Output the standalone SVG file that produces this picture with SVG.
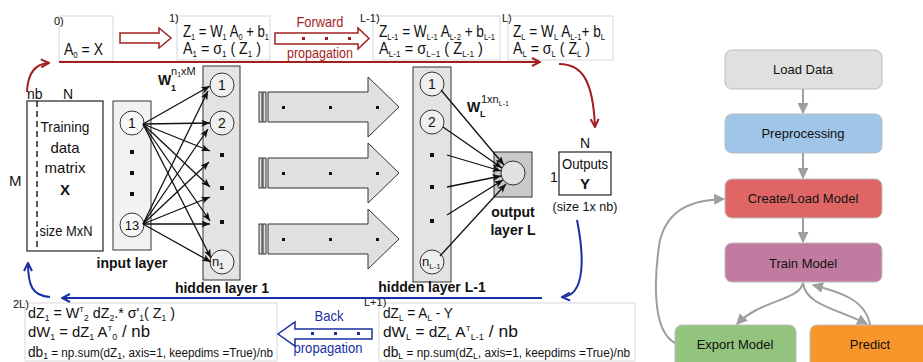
<svg xmlns="http://www.w3.org/2000/svg" width="923" height="362" viewBox="0 0 923 362">
<style>
text{font-family:"Liberation Sans",Arial,sans-serif;fill:#111}
.eq{font-size:16px}
.sb{font-size:9px}
.lbl{font-size:11px}
.bold{font-weight:bold}
.ebox{fill:#fff;stroke:#d8d8d8;stroke-width:1}
.nd{fill:#efefef;stroke:#333;stroke-width:1}
.layer{fill:#e3e3e3;stroke:#333;stroke-width:1}
.wire{stroke:#111;stroke-width:1.3;fill:none;marker-end:url(#ah)}
.red{stroke:#a31f1f;stroke-width:2;fill:none}
.blue{stroke:#1a2fa3;stroke-width:2;fill:none}
.gray{stroke:#9e9e9e;stroke-width:2;fill:none}
.dot{fill:#111}
.fc{font-size:13px;text-anchor:middle}
.bigar{fill:#e0e0e0;stroke:#333;stroke-width:1}
</style>
<defs>
<marker id="ah" viewBox="0 0 10 8" refX="10" refY="4" markerWidth="9" markerHeight="7" markerUnits="userSpaceOnUse" orient="auto"><path d="M0,0 L10,4 L0,8 L2.5,4 Z" fill="#111"/></marker>
<marker id="ahr" viewBox="0 0 10 10" refX="9" refY="5" markerWidth="10" markerHeight="10" markerUnits="userSpaceOnUse" orient="auto"><path d="M1,1 L9,5 L1,9" fill="none" stroke="#a31f1f" stroke-width="2"/></marker>
<marker id="ahb" viewBox="0 0 10 10" refX="9" refY="5" markerWidth="10" markerHeight="10" markerUnits="userSpaceOnUse" orient="auto"><path d="M1,1 L9,5 L1,9" fill="none" stroke="#1a2fa3" stroke-width="2"/></marker>
<marker id="ahg" viewBox="0 0 10 10" refX="9" refY="5" markerWidth="11" markerHeight="11" markerUnits="userSpaceOnUse" orient="auto"><path d="M0,0 L10,5 L0,10 Z" fill="#9e9e9e"/></marker>
</defs>

<!-- top equation boxes -->
<g id="eq0">
<rect class="ebox" x="59" y="16" width="54" height="45"/>
<text class="lbl" x="54" y="25">0)</text>
<text class="eq" x="64" y="55" textLength="39" lengthAdjust="spacingAndGlyphs">A<tspan class="sb" dy="3">0</tspan><tspan dy="-3"> = X</tspan></text>
</g>
<g id="arrow01">
<path d="M120,33 L159,33 L159,28 L171,38 L159,48 L159,43 L120,43 Z" fill="#fff" stroke="#a31f1f" stroke-width="1.5"/>
</g>
<g id="eq1">
<rect class="ebox" x="177" y="16" width="93" height="44"/>
<text class="lbl" x="169" y="22">1)</text>
<text class="eq" x="183" y="37" textLength="86" lengthAdjust="spacingAndGlyphs">Z<tspan class="sb" dy="3">1</tspan><tspan dy="-3"> = W</tspan><tspan class="sb" dy="3">1</tspan><tspan dy="-3"> A</tspan><tspan class="sb" dy="3">0</tspan><tspan dy="-3"> + b</tspan><tspan class="sb" dy="3">1</tspan></text>
<text class="eq" x="183" y="54" textLength="78" lengthAdjust="spacingAndGlyphs">A<tspan class="sb" dy="3">1</tspan><tspan dy="-3"> = σ</tspan><tspan class="sb" dy="3">1</tspan><tspan dy="-3"> ( Z</tspan><tspan class="sb" dy="3">1</tspan><tspan dy="-3"> )</tspan></text>
</g>
<g id="forward">
<text x="320" y="27" font-size="15" text-anchor="middle" style="fill:#a31f1f" textLength="47" lengthAdjust="spacingAndGlyphs">Forward</text>
<path d="M275,33 L358,33 L358,28 L369,38.5 L358,49 L358,44 L275,44 Z" fill="#fff" stroke="#a31f1f" stroke-width="1.5"/>
<rect x="302" y="37" width="3" height="3" fill="#a31f1f"/>
<rect x="325" y="37" width="3" height="3" fill="#a31f1f"/>
<rect x="348" y="37" width="3" height="3" fill="#a31f1f"/>
<text x="320" y="58" font-size="14" text-anchor="middle" style="fill:#a31f1f" textLength="66" lengthAdjust="spacingAndGlyphs">propagation</text>
</g>
<g id="eqL1">
<rect class="ebox" x="373" y="16" width="127" height="44"/>
<text class="lbl" x="360" y="22">L-1)</text>
<text class="eq" x="379" y="37" textLength="116" lengthAdjust="spacingAndGlyphs">Z<tspan class="sb" dy="3">L-1</tspan><tspan dy="-3"> = W</tspan><tspan class="sb" dy="3">L-1</tspan><tspan dy="-3"> A</tspan><tspan class="sb" dy="3">L-2</tspan><tspan dy="-3"> + b</tspan><tspan class="sb" dy="3">L-1</tspan></text>
<text class="eq" x="379" y="54" textLength="104" lengthAdjust="spacingAndGlyphs">A<tspan class="sb" dy="3">L-1</tspan><tspan dy="-3"> = σ</tspan><tspan class="sb" dy="3">L−1</tspan><tspan dy="-3"> ( Z</tspan><tspan class="sb" dy="3">L-1</tspan><tspan dy="-3"> )</tspan></text>
</g>
<g id="eqL">
<rect class="ebox" x="508" y="16" width="105" height="44"/>
<text class="lbl" x="502" y="22">L)</text>
<text class="eq" x="513" y="37" textLength="92" lengthAdjust="spacingAndGlyphs">Z<tspan class="sb" dy="3">L</tspan><tspan dy="-3"> = W</tspan><tspan class="sb" dy="3">L</tspan><tspan dy="-3"> A</tspan><tspan class="sb" dy="3">L-1</tspan><tspan dy="-3">+ b</tspan><tspan class="sb" dy="3">L</tspan></text>
<text class="eq" x="513" y="54" textLength="77" lengthAdjust="spacingAndGlyphs">A<tspan class="sb" dy="3">L</tspan><tspan dy="-3"> = σ</tspan><tspan class="sb" dy="3">L</tspan><tspan dy="-3"> ( Z</tspan><tspan class="sb" dy="3">L</tspan><tspan dy="-3"> )</tspan></text>
</g>

<!-- training data -->
<g id="training">
<rect x="27" y="101" width="76" height="150" fill="#fff" stroke="#222" stroke-width="1.2"/>
<line x1="37" y1="101" x2="37" y2="251" stroke="#222" stroke-width="1.5" stroke-dasharray="6,4"/>
<text x="27" y="99" font-size="14">nb</text>
<text x="63" y="99" font-size="14">N</text>
<text x="9" y="186" font-size="15">M</text>
<text x="65" y="132" font-size="15" text-anchor="middle" textLength="49" lengthAdjust="spacingAndGlyphs">Training</text>
<text x="65" y="153" font-size="15" text-anchor="middle">data</text>
<text x="65" y="173" font-size="15" text-anchor="middle">matrix</text>
<text x="65" y="195" font-size="15" text-anchor="middle" class="bold">X</text>
<text x="66" y="236" font-size="14" text-anchor="middle" textLength="53" lengthAdjust="spacingAndGlyphs">size MxN</text>
</g>

<!-- input layer -->
<g id="input-layer">
<rect x="113" y="101" width="38" height="149" fill="#f2f2f2" stroke="#333" stroke-width="1"/>
<circle class="nd" cx="132" cy="123" r="12" style="fill:#f7f7f7"/>
<text x="132" y="128" font-size="14" text-anchor="middle">1</text>
<rect class="dot" x="130" y="150" width="4" height="4"/>
<rect class="dot" x="130" y="171" width="4" height="4"/>
<rect class="dot" x="130" y="192" width="4" height="4"/>
<circle class="nd" cx="132" cy="225" r="12" style="fill:#f7f7f7"/>
<text x="132" y="230" font-size="13" text-anchor="middle">13</text>
<text x="132" y="268" font-size="14" text-anchor="middle" class="bold">input layer</text>
</g>

<!-- hidden layer 1 -->
<g id="hidden-1">
<rect class="layer" x="203" y="66" width="37" height="214"/>
<circle class="nd" cx="222" cy="85" r="12"/>
<text x="222" y="90" font-size="14" text-anchor="middle">1</text>
<circle class="nd" cx="222" cy="123" r="12"/>
<text x="222" y="128" font-size="14" text-anchor="middle">2</text>
<rect class="dot" x="220" y="153" width="4" height="4"/>
<rect class="dot" x="220" y="186" width="4" height="4"/>
<rect class="dot" x="220" y="220" width="4" height="4"/>
<circle class="nd" cx="222" cy="262" r="12"/>
<text x="218" y="266" font-size="13" text-anchor="middle">n<tspan font-size="9" dy="3">1</tspan></text>
<text x="222" y="293" font-size="14" text-anchor="middle" class="bold">hidden layer 1</text>
<text x="158" y="85" font-size="14" class="bold">W</text>
<text x="171" y="91" font-size="9" class="bold">1</text>
<text x="171" y="75" font-size="11">n<tspan font-size="7" dy="2">1</tspan><tspan dy="-2">xM</tspan></text>
</g>

<!-- big arrows -->
<g id="big-arrows">
<rect class="bigar" x="259" y="92" width="3" height="30"/>
<rect class="bigar" x="263" y="92" width="3" height="30"/>
<polygon class="bigar" points="268,92 368,92 368,77 399,107 368,137 368,122 268,122"/>
<rect class="bigar" x="259" y="158" width="3" height="30"/>
<rect class="bigar" x="263" y="158" width="3" height="30"/>
<polygon class="bigar" points="268,158 368,158 368,143 399,173 368,203 368,188 268,188"/>
<rect class="bigar" x="259" y="224" width="3" height="30"/>
<rect class="bigar" x="263" y="224" width="3" height="30"/>
<polygon class="bigar" points="268,224 368,224 368,209 399,239 368,269 368,254 268,254"/>
<rect class="dot" x="282" y="106" width="3" height="3"/><rect class="dot" x="329" y="106" width="3" height="3"/><rect class="dot" x="376" y="106" width="3" height="3"/>
<rect class="dot" x="282" y="172" width="3" height="3"/><rect class="dot" x="329" y="172" width="3" height="3"/><rect class="dot" x="376" y="172" width="3" height="3"/>
<rect class="dot" x="282" y="238" width="3" height="3"/><rect class="dot" x="329" y="238" width="3" height="3"/><rect class="dot" x="376" y="238" width="3" height="3"/>
</g>

<!-- hidden layer L-1 -->
<g id="hidden-L1">
<rect class="layer" x="413" y="67" width="38" height="215"/>
<circle class="nd" cx="432" cy="84" r="12"/>
<text x="432" y="89" font-size="14" text-anchor="middle">1</text>
<circle class="nd" cx="432" cy="122" r="12"/>
<text x="432" y="127" font-size="14" text-anchor="middle">2</text>
<rect class="dot" x="430" y="153" width="4" height="4"/>
<rect class="dot" x="430" y="185" width="4" height="4"/>
<rect class="dot" x="430" y="219" width="4" height="4"/>
<circle class="nd" cx="432" cy="262" r="12"/>
<text x="422" y="266" font-size="13">n<tspan font-size="8" dy="3">L-1</tspan></text>
<text x="432" y="292" font-size="14" text-anchor="middle" class="bold">hidden layer L-1</text>
<text x="467" y="112" font-size="14" class="bold">W</text>
<text x="480" y="117" font-size="9" class="bold">L</text>
<text x="481" y="103" font-size="11">1xn<tspan font-size="7" dy="3">L-1</tspan></text>
</g>

<!-- output layer -->
<g id="output-layer">
<rect x="494" y="152" width="38" height="45" fill="#c9c9c9" stroke="#333" stroke-width="1"/>
<circle cx="513" cy="173" r="12" fill="#e2e2e2" stroke="#333" stroke-width="1"/>
<text x="513" y="217" font-size="14" text-anchor="middle" class="bold">output</text>
<text x="513" y="235" font-size="14" text-anchor="middle" class="bold">layer L</text>
</g>

<!-- outputs Y -->
<g id="outputs">
<rect x="559" y="152" width="52" height="43" fill="#fff" stroke="#222" stroke-width="1.2"/>
<text x="585" y="148" font-size="14" text-anchor="middle">N</text>
<text x="550" y="182" font-size="14">1</text>
<text x="585" y="169" font-size="15" text-anchor="middle" textLength="46" lengthAdjust="spacingAndGlyphs">Outputs</text>
<text x="585" y="189" font-size="15" text-anchor="middle" class="bold">Y</text>
<text x="585" y="211" font-size="13" text-anchor="middle" textLength="65" lengthAdjust="spacingAndGlyphs">(size 1x nb)</text>
</g>

<!-- bottom boxes -->
<g id="eq2L">
<rect class="ebox" x="25" y="303" width="252" height="58"/>
<text class="lbl" x="13" y="308">2L)</text>
<text x="28" y="318" font-size="15" textLength="147" lengthAdjust="spacingAndGlyphs">dZ<tspan class="sb" dy="3">1</tspan><tspan dy="-3">  = W</tspan><tspan font-size="8" dy="-6">T</tspan><tspan class="sb" dy="9">2</tspan><tspan dy="-3"> dZ</tspan><tspan class="sb" dy="3">2</tspan><tspan dy="-3">.* σ'</tspan><tspan class="sb" dy="3">1</tspan><tspan dy="-3">( Z</tspan><tspan class="sb" dy="3">1</tspan><tspan dy="-3"> )</tspan></text>
<text x="28" y="337" font-size="15" textLength="122" lengthAdjust="spacingAndGlyphs">dW<tspan class="sb" dy="3">1</tspan><tspan dy="-3"> = dZ</tspan><tspan class="sb" dy="3">1</tspan><tspan dy="-3"> A</tspan><tspan font-size="8" dy="-6">T</tspan><tspan class="sb" dy="9">0</tspan><tspan dy="-3" font-size="17"> / nb</tspan></text>
<text x="28" y="357" font-size="12" textLength="245" lengthAdjust="spacingAndGlyphs"><tspan font-size="14">db</tspan><tspan class="sb" dy="2">1</tspan><tspan dy="-2">  = np.sum(dZ</tspan><tspan font-size="9" dy="2">1</tspan><tspan dy="-2">, axis=1, keepdims =True)/nb</tspan></text>
</g>
<g id="backward">
<text x="329" y="321" font-size="15" text-anchor="middle" style="fill:#1a2fa3" textLength="29" lengthAdjust="spacingAndGlyphs">Back</text>
<path d="M372,329 L295,329 L295,322 L278,334 L295,346 L295,339 L372,339 Z" fill="#fff" stroke="#1a2fa3" stroke-width="1.5"/>
<rect x="311" y="332" width="3" height="3" fill="#1a2fa3"/>
<rect x="334" y="332" width="3" height="3" fill="#1a2fa3"/>
<rect x="357" y="332" width="3" height="3" fill="#1a2fa3"/>
<text x="328" y="353" font-size="14" text-anchor="middle" style="fill:#1a2fa3" textLength="69" lengthAdjust="spacingAndGlyphs">propagation</text>
</g>
<g id="eqL+1">
<rect class="ebox" x="379" y="303" width="256" height="58"/>
<text class="lbl" x="364" y="306">L+1)</text>
<text x="383" y="318" font-size="15" textLength="70" lengthAdjust="spacingAndGlyphs">dZ<tspan class="sb" dy="3">L</tspan><tspan dy="-3">  = A</tspan><tspan class="sb" dy="3">L</tspan><tspan dy="-3"> - Y</tspan></text>
<text x="383" y="337" font-size="15" textLength="135" lengthAdjust="spacingAndGlyphs">dW<tspan class="sb" dy="3">L</tspan><tspan dy="-3"> = dZ</tspan><tspan class="sb" dy="3">L</tspan><tspan dy="-3"> A</tspan><tspan font-size="8" dy="-6">T</tspan><tspan class="sb" dy="9">L-1</tspan><tspan dy="-3" font-size="17"> / nb</tspan></text>
<text x="383" y="357" font-size="12" textLength="247" lengthAdjust="spacingAndGlyphs"><tspan font-size="14">db</tspan><tspan class="sb" dy="2">L</tspan><tspan dy="-2">  = np.sum(dZ</tspan><tspan font-size="9" dy="2">L</tspan><tspan dy="-2">, axis=1, keepdims =True)/nb</tspan></text>
</g>

<!-- flowchart nodes -->
<g id="load-data"><rect x="725" y="50" width="157" height="39" rx="7" fill="#e0e0e0" stroke="#bdbdbd"/><text class="fc" x="803" y="74">Load Data</text></g>
<g id="preprocessing"><rect x="725" y="114" width="157" height="39" rx="7" fill="#9fc5e8" stroke="#bdbdbd"/><text class="fc" x="803" y="138">Preprocessing</text></g>
<g id="create-load-model"><rect x="725" y="179" width="157" height="39" rx="7" fill="#e06666" stroke="#bdbdbd"/><text class="fc" x="803" y="203">Create/Load Model</text></g>
<g id="train-model"><rect x="725" y="243" width="157" height="39" rx="7" fill="#c27ba0" stroke="#bdbdbd"/><text class="fc" x="803" y="268">Train Model</text></g>
<g id="export-model"><rect x="675" y="325" width="121" height="45" rx="7" fill="#93c47d" stroke="#bdbdbd"/><text class="fc" x="735" y="349">Export Model</text></g>
<g id="predict"><rect x="810" y="325" width="125" height="45" rx="7" fill="#f6962b" stroke="#bdbdbd"/><text class="fc" x="870" y="349">Predict</text></g>

<!-- connectors -->
<g id="connectors">
<line class="wire" x1="143" y1="124" x2="210" y2="86"/>
<line class="wire" x1="143" y1="124" x2="210" y2="123"/>
<line class="wire" x1="143" y1="124" x2="210" y2="151"/>
<line class="wire" x1="143" y1="124" x2="210" y2="187"/>
<line class="wire" x1="143" y1="124" x2="210" y2="221"/>
<line class="wire" x1="143" y1="124" x2="211" y2="258"/>
<line class="wire" x1="143" y1="224" x2="208" y2="91"/>
<line class="wire" x1="143" y1="224" x2="208" y2="129"/>
<line class="wire" x1="143" y1="224" x2="209" y2="162"/>
<line class="wire" x1="143" y1="224" x2="210" y2="197"/>
<line class="wire" x1="143" y1="224" x2="210" y2="224"/>
<line class="wire" x1="143" y1="224" x2="211" y2="262"/>
<line class="wire" x1="441" y1="90" x2="504" y2="165"/>
<line class="wire" x1="443" y1="127" x2="502" y2="168"/>
<line class="wire" x1="447" y1="155" x2="501" y2="171"/>
<line class="wire" x1="447" y1="187" x2="501" y2="176"/>
<line class="wire" x1="447" y1="215" x2="503" y2="180"/>
<line class="wire" x1="440" y1="256" x2="506" y2="184"/>
<path class="red" d="M27,92 Q28,64 49,63" marker-end="url(#ahr)"/>
<path class="red" d="M59,62 L540,62" marker-end="url(#ahr)"/>
<path class="red" d="M559,64 C582,64 593,80 595,127" marker-end="url(#ahr)"/>
<path class="blue" d="M577,220 C584,255 586,296 562,297" marker-end="url(#ahb)"/>
<path class="blue" d="M542,298 L62,298" marker-end="url(#ahb)"/>
<path class="blue" d="M50,297 C32,296 28,285 28,263" marker-end="url(#ahb)"/>
<path class="gray" d="M803,89 L803,113" marker-end="url(#ahg)"/>
<path class="gray" d="M803,153 L803,178" marker-end="url(#ahg)"/>
<path class="gray" d="M803,218 L803,242" marker-end="url(#ahg)"/>
<path class="gray" d="M803,283 C800,300 760,300 737,324" marker-end="url(#ahg)"/>
<path class="gray" d="M803,283 C806,305 835,308 867,324" marker-end="url(#ahg)"/>
<path class="gray" d="M870,325 C866,300 840,292 813,285" marker-end="url(#ahg)"/>
<path class="gray" d="M675,343 C650,330 655,270 660,240 C668,210 690,200 724,199" marker-end="url(#ahg)"/>
</g>
</svg>
